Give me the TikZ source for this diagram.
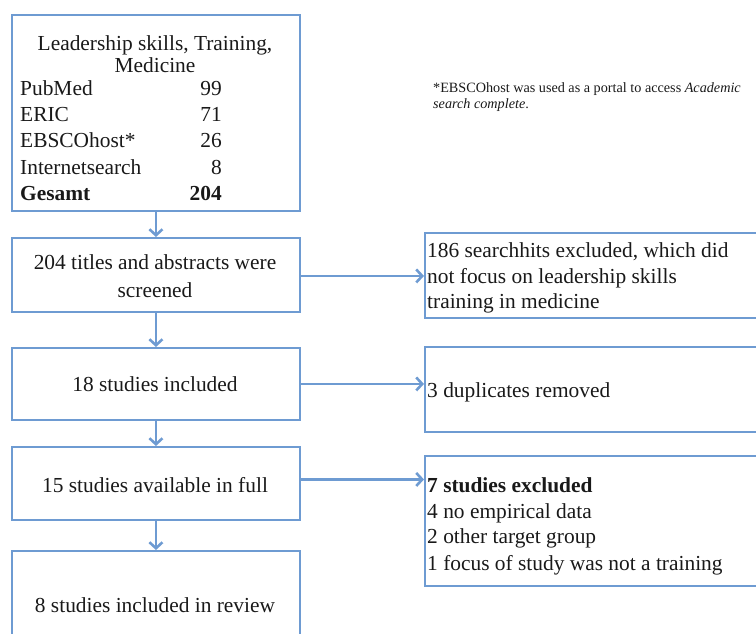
\documentclass[tikz,border=0pt]{standalone}
\usepackage{fontspec}
\setmainfont{Liberation Serif}
\usetikzlibrary{arrows.meta}
\definecolor{boxblue}{RGB}{110,155,210}
\definecolor{txtcol}{RGB}{25,25,25}
\tikzset{
  box/.style={draw=boxblue, line width=1.9pt, rectangle, inner sep=0pt, anchor=north west},
  arr/.style={draw=boxblue, line width=2.6pt, -{Straight Barb[length=6pt,width=13pt,line width=2.6pt]}},
  txt/.style={inner sep=0pt, anchor=base, text=txtcol, font=\fontsize{21.4}{25.5}\selectfont},
  txtl/.style={txt, anchor=base west},
  txtr/.style={txt, anchor=base east},
  note/.style={inner sep=0pt, anchor=base west, text=txtcol, font=\fontsize{14.2}{16}\selectfont}
}
\begin{document}
\begin{tikzpicture}[x=1pt,y=-1pt]
\useasboundingbox (0,0) rectangle (756,633);
\clip (0,0) rectangle (756,633);
% left column boxes
\node[box, minimum width=288pt, minimum height=196pt] (b1) at (11,14) {};
\node[box, minimum width=288pt, minimum height=74pt] (b2) at (11,237) {};
\node[box, minimum width=288pt, minimum height=72pt] (b3) at (11,347) {};
\node[box, minimum width=288pt, minimum height=73pt] (b4) at (11,446) {};
\node[box, minimum width=288pt, minimum height=110pt] (b5) at (11,550) {};
% right column boxes
\node[box, minimum width=360pt, minimum height=85pt] (r1) at (424,232) {};
\node[box, minimum width=360pt, minimum height=85pt] (r2) at (424,346) {};
\node[box, minimum width=360pt, minimum height=130pt] (r3) at (424,455) {};
% box 1 text
\node[txt] (h1) at (155,50) {Leadership skills, Training,};
\node[txt] (h2) at (155,72) {Medicine};
\node[txtl] (n1) at (20,95) {PubMed};
\node[txtr] (v1) at (222,95) {99};
\node[txtl] (n2) at (20,121) {ERIC};
\node[txtr] (v2) at (222,121) {71};
\node[txtl] (n3) at (20,147) {EBSCOhost*};
\node[txtr] (v3) at (222,147) {26};
\node[txtl] (n4) at (20,174) {Internetsearch};
\node[txtr] (v4) at (222,174) {8};
\node[txtl] (n5) at (20,200) {\bfseries Gesamt};
\node[txtr] (v5) at (222,200) {\bfseries 204};
% left box texts
\node[txt] (t2a) at (155,269) {204 titles and abstracts were};
\node[txt] (t2b) at (155,297) {screened};
\node[txt] (t3) at (155,391) {18 studies included};
\node[txt] (t4) at (155,492) {15 studies available in full};
\node[txt] (t5) at (155,612) {8 studies included in review};
% right box texts
\node[txtl] (s1a) at (427,257) {186 searchhits excluded, which did};
\node[txtl] (s1b) at (427,283) {not focus on leadership skills};
\node[txtl] (s1c) at (427,308) {training in medicine};
\node[txtl] (s2) at (427,397) {3 duplicates removed};
\node[txtl] (s3a) at (427,492) {\bfseries 7 studies excluded};
\node[txtl] (s3b) at (427,518) {4 no empirical data};
\node[txtl] (s3c) at (427,543) {2 other target group};
\node[txtl] (s3d) at (427,570) {1 focus of study was not a training};
% footnote
\node[note] (f1) at (433,92) {*EBSCOhost was used as a portal to access \textit{Academic}};
\node[note] (f2) at (433,108) {\textit{search complete}.};
% arrows
\draw[arr] (b1.south) -- (b2.north);
\draw[arr] (b2.south) -- (b3.north);
\draw[arr] (b3.south) -- (b4.north);
\draw[arr] (b4.south) -- (b5.north);
\coordinate (e2) at ([yshift=-1pt]b2.east);
\coordinate (e4) at ([yshift=4pt]b4.east);
\draw[arr] (e2) -- (e2 -| r1.west);
\draw[arr] (b3.east) -- (b3.east -| r2.west);
\draw[arr] (e4) -- (e4 -| r3.west);
\end{tikzpicture}
\end{document}
